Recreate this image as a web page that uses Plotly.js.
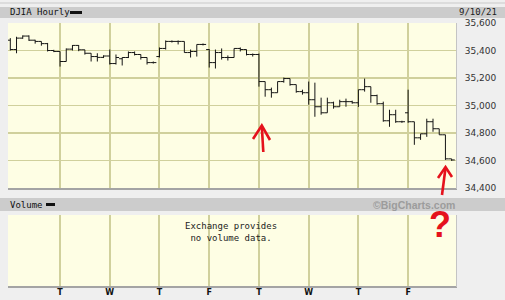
<!DOCTYPE html>
<html>
<head>
<meta charset="utf-8">
<script src="https://cdn.plot.ly/plotly-3.0.1.min.js"></script>
<style>
html,body{margin:0;padding:0;background:#efefef;}
#chart{width:505px;height:300px;}
</style>
</head>
<body>
<div id="chart"></div>
<script>
// Hourly DJIA bars, Mon 8/30/21 .. Fri 9/10/21 (8 bars per session)
const openVals = [35475,35407,35490,35505,35475,35466,35450,35400,
  35393,35320,35410,35437,35405,35380,35356,35350,
  35360,35305,35340,35349,35385,35371,35349,35312,
  35356,35415,35466,35466,35466,35385,35393,35444,
  35407,35312,35385,35349,35349,35415,35407,35371,
  35371,35174,35115,35093,35174,35196,35152,35101,
  35093,35042,34991,34947,35020,34991,35028,35028,
  35020,35115,35137,35072,35013,34889,34933,34882,
  34947,34882,34765,34794,34882,34831,34787,34612];
const highVals = [35490,35500,35510,35510,35478,35466,35455,35405,
  35393,35415,35440,35440,35405,35380,35380,35365,
  35407,35371,35349,35393,35393,35371,35349,35320,
  35422,35473,35473,35473,35466,35407,35444,35451,
  35410,35407,35415,35364,35415,35422,35407,35378,
  35378,35174,35130,35174,35203,35196,35152,35115,
  35174,35166,35057,35057,35028,35042,35050,35035,
  35115,35196,35137,35079,35028,34969,34969,34889,
  35115,34882,34794,34904,34904,34831,34787,34612];
const lowVals = [35400,35380,35485,35470,35450,35435,35393,35388,
  35283,35320,35400,35395,35370,35320,35320,35345,
  35298,35298,35291,35345,35364,35334,35298,35305,
  35349,35407,35458,35444,35385,35349,35356,35437,
  35276,35269,35334,35327,35349,35393,35364,35356,
  35137,35064,35057,35093,35166,35144,35093,35079,
  35006,34918,34933,34947,34977,34991,34991,35013,
  34990,35101,35020,35006,34882,34845,34874,34874,
  34874,34714,34750,34772,34809,34787,34604,34597];
const closeVals = [35407,35490,35505,35475,35466,35450,35400,35393,
  35320,35410,35437,35405,35380,35356,35350,35360,
  35305,35349,35349,35385,35371,35349,35312,35312,
  35415,35466,35466,35466,35385,35393,35444,35444,
  35312,35385,35349,35349,35415,35407,35371,35371,
  35174,35115,35093,35174,35196,35152,35101,35093,
  35042,34991,34947,35020,34991,35028,35028,35020,
  35115,35137,35072,35013,34889,34933,34882,34882,
  34882,34765,34794,34882,34831,34787,34612,34604];
const dayLabels = ['T','W','T','F','T','W','T','F'];
const dayStarts = [8,16,24,32,40,48,56,64];
const priceTicks = [34400,34600,34800,35000,35200,35400,35600];

const barIndex = closeVals.map((_, i) => i);

// page-pixel helpers for layout decorations
const W = 505, H = 300;
const px = v => v / W;
const py = v => 1 - v / H;

const gridCol = '#d0d09c';
const bg = '#fefee4';
const red = '#e5121c';

const traces = [
  {
    type: 'ohlc', x: barIndex, open: openVals, high: highVals, low: lowVals, close: closeVals,
    xaxis: 'x', yaxis: 'y',
    increasing: {line: {color: '#151515', width: 1}},
    decreasing: {line: {color: '#151515', width: 1}},
    tickwidth: 0.5, hoverinfo: 'skip', showlegend: false
  },
  {type: 'scatter', x: [0], y: [0.5], mode: 'markers', marker: {opacity: 0},
   xaxis: 'x2', yaxis: 'y2', hoverinfo: 'skip', showlegend: false}
];

const mono = 'DejaVu Sans Mono, monospace';
const sans = 'DejaVu Sans, Verdana, sans-serif';

const layout = {
  width: W, height: H,
  margin: {l: 0, r: 0, t: 0, b: 0},
  paper_bgcolor: '#efefef',
  plot_bgcolor: bg,
  showlegend: false,
  xaxis: {
    domain: [px(8), px(456)], anchor: 'y', range: [-0.37, 71.7],
    tickvals: dayStarts, showticklabels: false, ticks: '',
    showgrid: true, gridcolor: gridCol, gridwidth: 2,
    zeroline: false, showline: false, rangeslider: {visible: false}, fixedrange: true
  },
  yaxis: {
    domain: [py(188), py(23)], anchor: 'x', range: [34400, 35600], side: 'right',
    tickvals: priceTicks, tickformat: ',d', ticks: 'outside', ticklen: 6, tickcolor: 'rgba(0,0,0,0)',
    tickfont: {family: sans, size: 9, color: '#333'},
    showgrid: true, gridcolor: gridCol, gridwidth: 1.5, zeroline: false, showline: false, fixedrange: true
  },
  xaxis2: {
    domain: [px(8), px(456)], anchor: 'y2', matches: 'x', range: [-0.37, 71.7],
    tickvals: dayStarts, ticktext: dayLabels, ticks: '',
    tickfont: {family: sans, size: 8, color: '#111', weight: 'bold'},
    showgrid: true, gridcolor: gridCol, gridwidth: 2, zeroline: false, showline: false, fixedrange: true
  },
  yaxis2: {
    domain: [py(286), py(215)], anchor: 'x2', range: [0, 1],
    showgrid: false, showticklabels: false, zeroline: false, showline: false, ticks: '', fixedrange: true
  },
  shapes: [
    {type: 'line', xref: 'paper', yref: 'paper', x0: 0, x1: 1, y0: py(3), y1: py(3), line: {color: '#c9c9c9', width: 1}, layer: 'below'},
    {type: 'rect', xref: 'paper', yref: 'paper', x0: 0, x1: 1, y0: py(18), y1: py(7), fillcolor: '#cccccc', line: {width: 0}, layer: 'below'},
    {type: 'rect', xref: 'paper', yref: 'paper', x0: 0, x1: 1, y0: py(211), y1: py(198), fillcolor: '#cccccc', line: {width: 0}, layer: 'below'},
    {type: 'rect', xref: 'paper', yref: 'paper', x0: px(70), x1: px(82), y0: py(14), y1: py(11), fillcolor: '#111', line: {width: 0}},
    {type: 'rect', xref: 'paper', yref: 'paper', x0: px(46), x1: px(55), y0: py(206), y1: py(203), fillcolor: '#111', line: {width: 0}},
    // panel shadows
    {type: 'line', xref: 'paper', yref: 'paper', x0: px(8), x1: px(457), y0: py(189), y1: py(189), line: {color: '#a4a4a4', width: 2}},
    {type: 'line', xref: 'paper', yref: 'paper', x0: px(8), x1: px(457), y0: py(287), y1: py(287), line: {color: '#a4a4a4', width: 2}},
    {type: 'line', xref: 'paper', yref: 'paper', x0: px(456.5), x1: px(456.5), y0: py(189), y1: py(23), line: {color: '#c4c4c4', width: 1}},
    {type: 'line', xref: 'paper', yref: 'paper', x0: px(456.5), x1: px(456.5), y0: py(287), y1: py(215), line: {color: '#c4c4c4', width: 1}},
    // red hand-drawn arrow 1
    {type: 'path', xref: 'paper', yref: 'paper',
     path: `M ${px(263.3)} ${py(152)} L ${px(261.8)} ${py(126)}`, line: {color: red, width: 2.6}},
    {type: 'path', xref: 'paper', yref: 'paper',
     path: `M ${px(253)} ${py(139)} L ${px(261.8)} ${py(125.5)} L ${px(270)} ${py(140)}`, line: {color: red, width: 2.6}},
    // red hand-drawn arrow 2
    {type: 'path', xref: 'paper', yref: 'paper',
     path: `M ${px(442)} ${py(195)} L ${px(445.5)} ${py(168)}`, line: {color: red, width: 2.6}},
    {type: 'path', xref: 'paper', yref: 'paper',
     path: `M ${px(438)} ${py(178)} L ${px(445.5)} ${py(167)} L ${px(452)} ${py(177)}`, line: {color: red, width: 2.6}}
  ],
  annotations: [
    {xref: 'paper', yref: 'paper', x: px(8), y: py(12.5), xanchor: 'left', yanchor: 'middle', showarrow: false,
     text: 'DJIA Hourly', font: {family: mono, size: 9, color: '#111'}},
    {xref: 'paper', yref: 'paper', x: px(499), y: py(12.5), xanchor: 'right', yanchor: 'middle', showarrow: false,
     text: '9/10/21', font: {family: mono, size: 9, color: '#222'}},
    {xref: 'paper', yref: 'paper', x: px(8), y: py(204.5), xanchor: 'left', yanchor: 'middle', showarrow: false,
     text: 'Volume', font: {family: mono, size: 9, color: '#111'}},
    {xref: 'paper', yref: 'paper', x: px(457), y: py(204.5), xanchor: 'right', yanchor: 'middle', showarrow: false,
     text: '©BigCharts.com', font: {family: 'Liberation Sans, Arial, sans-serif', size: 10.5, color: '#9c9c9c', weight: 'bold'}},
    {xref: 'paper', yref: 'paper', x: px(231), y: py(232), xanchor: 'center', yanchor: 'middle', showarrow: false,
     text: 'Exchange provides<br>no volume data.', align: 'center',
     font: {family: mono, size: 9, color: '#222'}},
    {xref: 'paper', yref: 'paper', x: px(440), y: py(224), xanchor: 'center', yanchor: 'middle', showarrow: false,
     text: '?', font: {family: 'Liberation Sans Narrow, Liberation Sans, sans-serif', size: 36, color: red, weight: 'bold'}}
  ]
};

Plotly.newPlot('chart', traces, layout, {staticPlot: true, displayModeBar: false});
</script>
</body>
</html>
